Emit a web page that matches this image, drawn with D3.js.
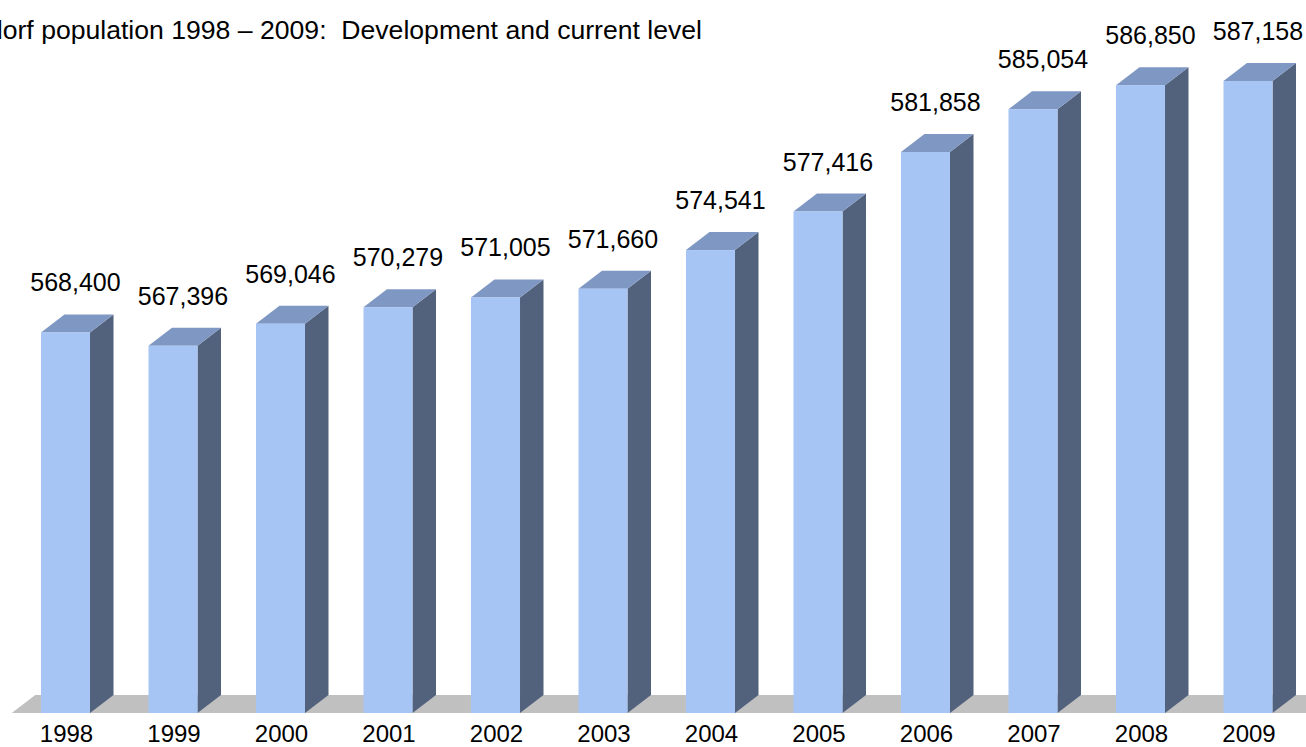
<!DOCTYPE html>
<html>
<head>
<meta charset="utf-8">
<style>
  body { margin: 0; background: #fff; }
  text { font-family: Arial, "Liberation Sans", sans-serif; fill: #000; }
</style>
</head>
<body>
<script src="https://d3js.org/d3.v7.min.js"></script>
<script>

const years = ['1998', '1999', '2000', '2001', '2002', '2003', '2004', '2005', '2006', '2007', '2008', '2009'];
const population = [568400, 567396, 569046, 570279, 571005, 571660, 574541, 577416, 581858, 585054, 586850, 587158];
const title = 'Düsseldorf population 1998 – 2009:  Development and current level';

const width = 1306;
const height = 747;
const baseY = 713;
const depthX = 23.5;
const depthY = 18;

const svg = d3.select('body')
  .append('svg')
  .attr('width', width)
  .attr('height', height);

const x = d3.scaleBand()
  .domain(years)
  .range([11.75, 11.75 + 12 * 107.5])
  .paddingInner(0.544)
  .paddingOuter(0.272);

const y = d3.scaleLinear()
  .domain([540000, 600000])
  .range([baseY, baseY - 804.1]);

// floor
const x0 = x.range()[0];
const x1 = x.range()[1];
svg.append('polygon')
  .attr('points', [
    [x0, baseY], [x1 + 40, baseY], [x1 + 40 + depthX, baseY - depthY], [x0 + depthX, baseY - depthY]
  ].join(' '))
  .attr('fill', '#c0c0c0');

const bars = svg.selectAll('g.bar')
  .data(years.map((yr, i) => ({ year: yr, value: population[i] })))
  .enter()
  .append('g')
  .attr('class', 'bar');

const left = d => x(d.year);
const right = d => x(d.year) + x.bandwidth();

// side face
bars.append('polygon')
  .attr('points', d => [
    [right(d), y(d.value)], [right(d) + depthX, y(d.value) - depthY],
    [right(d) + depthX, baseY - depthY], [right(d), baseY]
  ].join(' '))
  .attr('fill', '#53627c');

// top face
bars.append('polygon')
  .attr('points', d => [
    [left(d), y(d.value)], [right(d), y(d.value)],
    [right(d) + depthX, y(d.value) - depthY], [left(d) + depthX, y(d.value) - depthY]
  ].join(' '))
  .attr('fill', '#7e97c3');

// front face
bars.append('rect')
  .attr('x', left)
  .attr('y', d => y(d.value))
  .attr('width', x.bandwidth())
  .attr('height', d => baseY - y(d.value))
  .attr('fill', '#a6c4f4');

// value labels
bars.append('text')
  .attr('x', d => left(d) + x.bandwidth() / 2 + 10)
  .attr('y', d => y(d.value) - depthY - 23)
  .attr('text-anchor', 'middle')
  .attr('font-size', 25)
  .text(d => d3.format(',')(d.value));

// year labels
svg.selectAll('text.year')
  .data(years)
  .enter()
  .append('text')
  .attr('class', 'year')
  .attr('x', d => x(d) + x.bandwidth() / 2 + 1)
  .attr('y', 742)
  .attr('text-anchor', 'middle')
  .attr('font-size', 24)
  .text(d => d);

// title runs off the left edge, as in the original slide
svg.append('text')
  .attr('x', 702)
  .attr('y', 39)
  .attr('text-anchor', 'end')
  .attr('font-size', 26.6)
  .style('white-space', 'pre')
  .text(title);

</script>
</body>
</html>
